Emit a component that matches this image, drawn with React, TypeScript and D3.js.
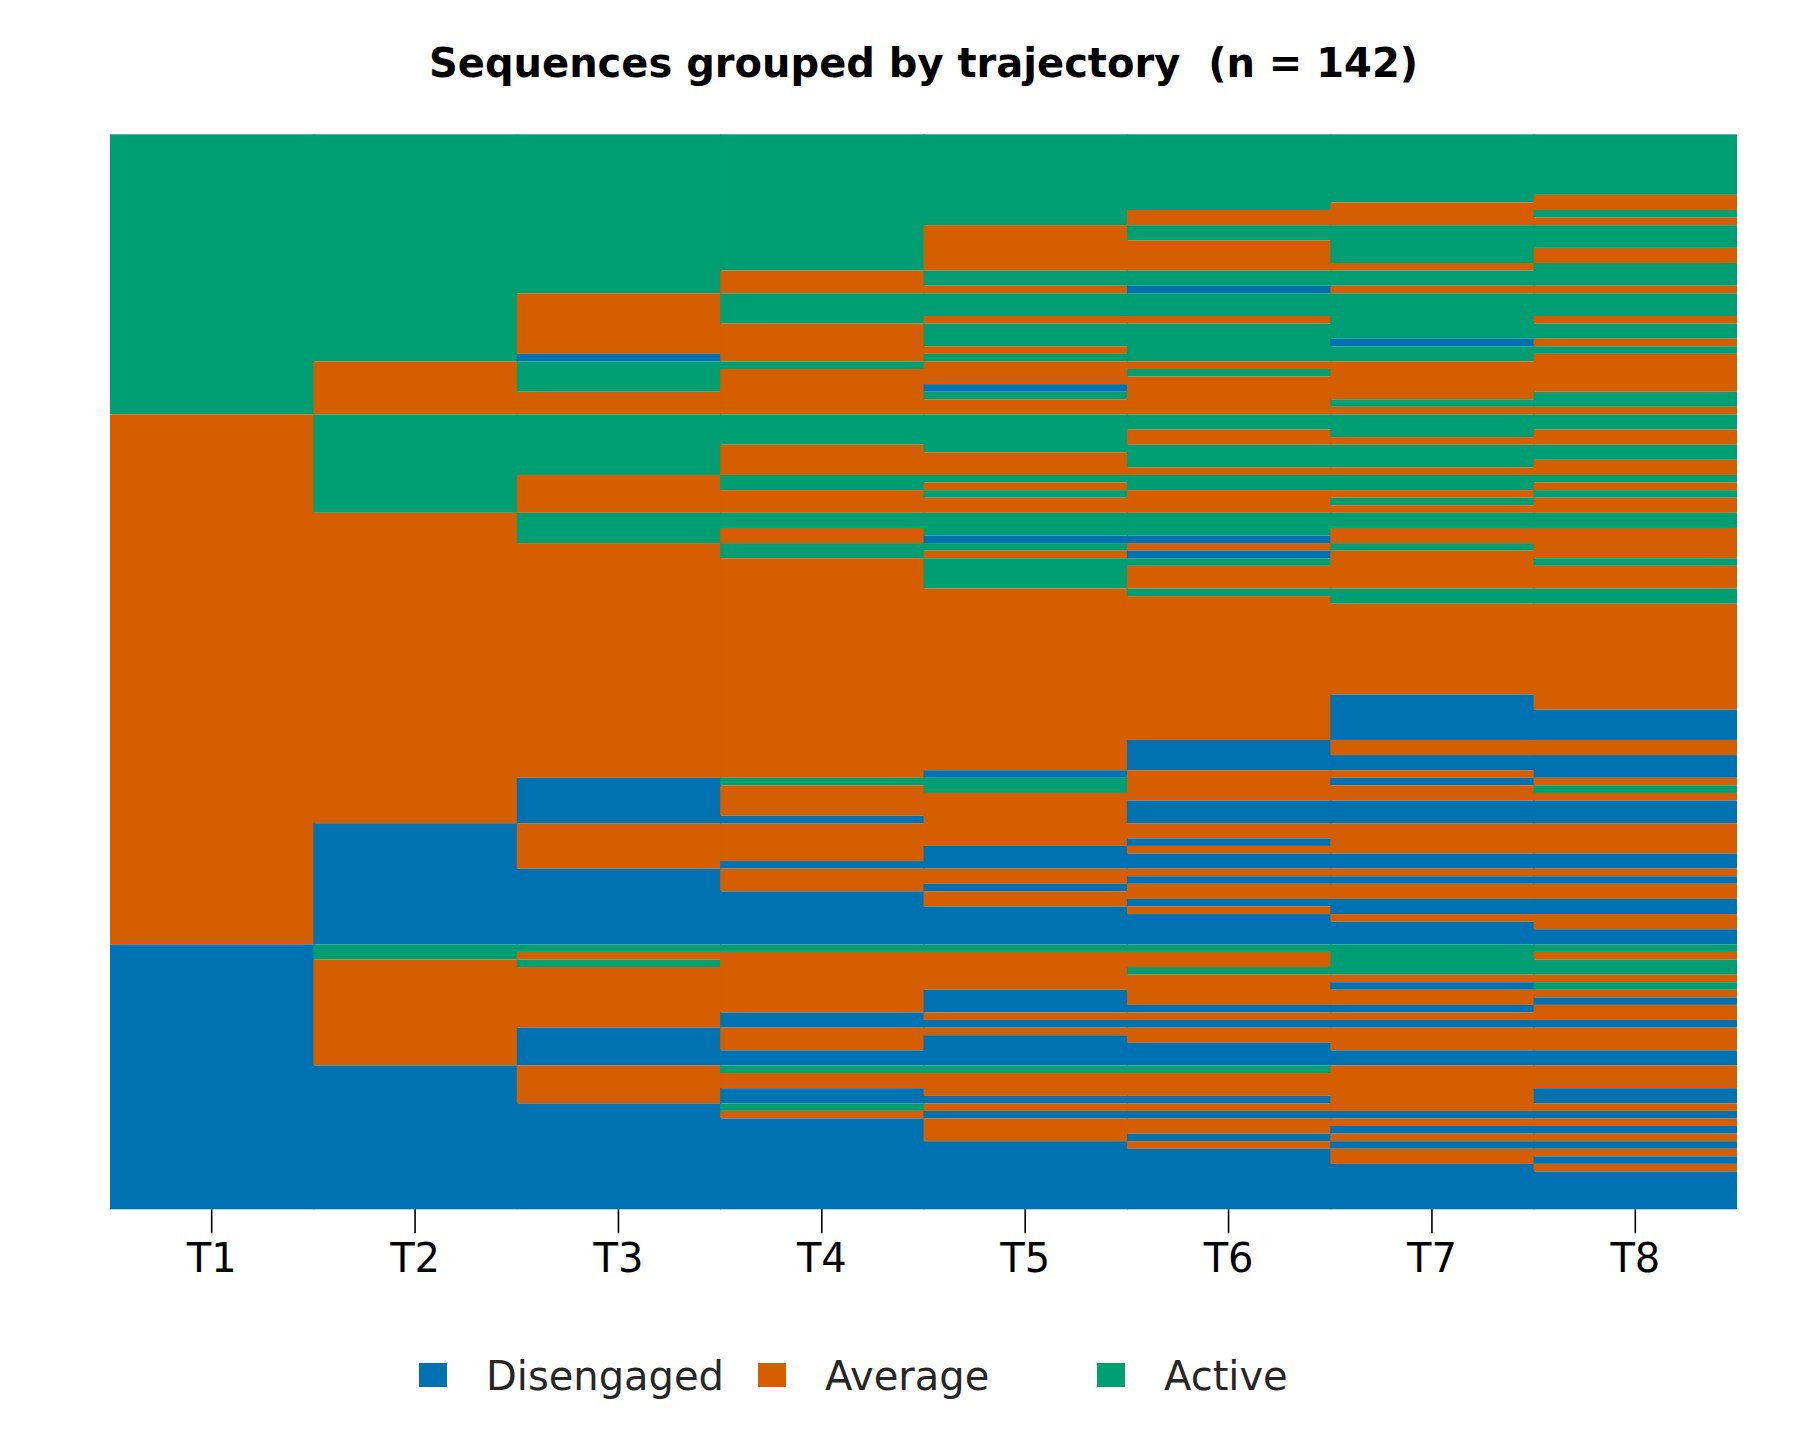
import * as d3 from 'd3';
import {useEffect, useRef} from 'react';

// states, coded 1..3 in the sequences below
const stateNames = ['Disengaged', 'Average', 'Active'];
const stateColors = ['#0072B2', '#D55E00', '#009E73'];
const timeLabels = ['T1', 'T2', 'T3', 'T4', 'T5', 'T6', 'T7', 'T8'];

// one string per sequence, top row first (1 = Disengaged, 2 = Average, 3 = Active)
const sequences = [
    '33333333', '33333333', '33333333', '33333333', '33333333', '33333333', '33333333', '33333333',
    '33333332', '33333322', '33333223', '33333222', '33332333', '33332333', '33332233', '33332232',
    '33332232', '33332223', '33323333', '33323333', '33322122', '33233333', '33233333', '33233333',
    '33232232', '33223333', '33223333', '33223312', '33222333', '33123332', '32332222', '32322322',
    '32322222', '32321222', '32223223', '32222233', '32222222', '23333333', '23333333', '23333232',
    '23333222', '23323333', '23322333', '23322332', '23322222', '23233333', '23232332', '23223223',
    '23222232', '23222222', '22333333', '22333333', '22323322', '22321122', '22233232', '22232122',
    '22223323', '22223222', '22223222', '22223222', '22222333', '22222233', '22222222', '22222222',
    '22222222', '22222222', '22222222', '22222222', '22222222', '22222222', '22222222', '22222222',
    '22222222', '22222222', '22222212', '22222212', '22222211', '22222211', '22222211', '22222211',
    '22222122', '22222122', '22222111', '22222111', '22221221', '22133212', '22123223', '22122222',
    '22122111', '22122111', '22112111', '21222222', '21222222', '21222122', '21221222', '21221111',
    '21211111', '21122222', '21122111', '21121222', '21112222', '21112111', '21111211', '21111122',
    '21111112', '21111111', '21111111', '13333333', '13222232', '12322233', '12222333', '12222222',
    '12222213', '12221222', '12221221', '12221112', '12212222', '12211111', '12122222', '12121222',
    '12121122', '12111111', '12111111', '11233322', '11222222', '11222222', '11212221', '11211121',
    '11132222', '11121111', '11112222', '11112211', '11112122', '11111211', '11111122', '11111121',
    '11111112', '11111111', '11111111', '11111111', '11111111', '11111111',
];

const width = 1800;
const height = 1440;
const margin = {top: 134.3, right: 63, bottom: 230.7, left: 110};
const font = '"DejaVu Sans", sans-serif';

export default function App() {
    const axisRef = useRef(null);

    const x = d3
        .scaleBand<string>()
        .domain(timeLabels)
        .range([margin.left, width - margin.right]);

    const y = d3
        .scaleBand<number>()
        .domain(d3.range(sequences.length))
        .range([margin.top, height - margin.bottom]);

    // merge consecutive rows with the same state in each column
    const runs: {col: string; start: number; end: number; state: number}[] = [];
    timeLabels.forEach((t, c) => {
        let start = 0;
        for (let i = 1; i <= sequences.length; i++) {
            if (i === sequences.length || sequences[i][c] !== sequences[start][c]) {
                runs.push({col: t, start, end: i - 1, state: +sequences[start][c] - 1});
                start = i;
            }
        }
    });

    useEffect(() => {
        const g = d3.select(axisRef.current);
        g.selectAll('*').remove();
        g.call(d3.axisBottom(x).tickSize(24).tickPadding(10));
        g.select('.domain').remove();
        g.selectAll('.tick line').attr('stroke', '#000').attr('stroke-width', 1.6);
        g.selectAll('.tick text')
            .attr('fill', '#000')
            .style('font-size', '40px')
            .style('font-family', font);
    }, []);

    const legendX0 = 419;
    const legendStep = 339;
    const lastCol = timeLabels[timeLabels.length - 1];

    return (
        <svg
            width={width}
            height={height}
            style={{position: 'absolute', left: 0, top: 0, background: '#fff'}}
        >
            <text
                x={(margin.left + width - margin.right) / 2}
                y={77}
                textAnchor="middle"
                fontFamily={font}
                fontWeight="bold"
                fontSize={40}
            >
                Sequences grouped by trajectory{'\u00a0\u00a0'}(n = 142)
            </text>
            <g>
                {runs.map((r, i) => (
                    <rect
                        key={i}
                        x={x(r.col)}
                        y={y(r.start)}
                        // small overlap so neighbouring columns leave no hairline seam
                        width={x.bandwidth() + (r.col === lastCol ? 0 : 1)}
                        height={(y(r.end) as number) + y.bandwidth() - (y(r.start) as number)}
                        fill={stateColors[r.state]}
                    />
                ))}
            </g>
            <g ref={axisRef} transform={`translate(0, ${height - margin.bottom})`} />
            <g>
                {stateNames.map((name, i) => (
                    <g key={name} transform={`translate(${legendX0 + i * legendStep}, 0)`}>
                        <rect x={0} y={1363} width={28} height={24} fill={stateColors[i]} />
                        <text
                            x={67}
                            y={1390}
                            fontFamily={font}
                            fontSize={40}
                            fill="#262626"
                        >
                            {name}
                        </text>
                    </g>
                ))}
            </g>
        </svg>
    );
}
